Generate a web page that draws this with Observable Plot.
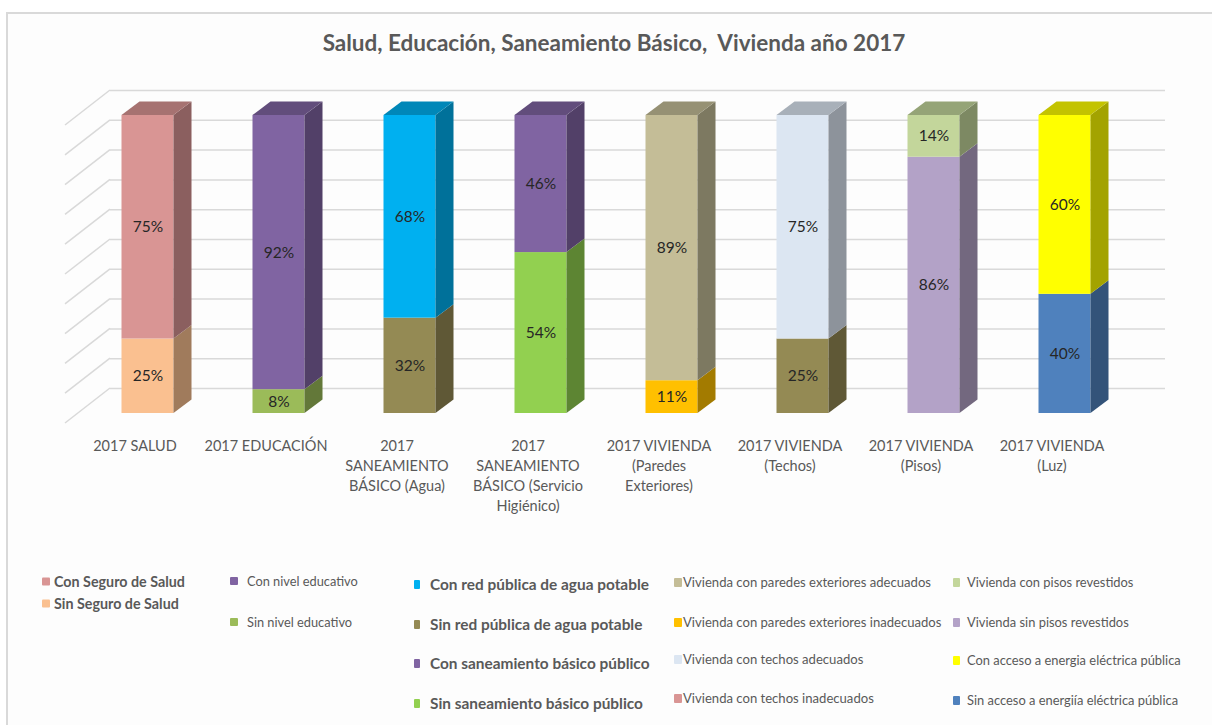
<!DOCTYPE html>
<html lang="es">
<head>
<meta charset="utf-8">
<script src="https://cdn.jsdelivr.net/npm/d3@7"></script>
<script src="https://cdn.jsdelivr.net/npm/@observablehq/plot@0.6"></script>
<style>
  html, body { margin: 0; padding: 0; background: #ffffff; }
  body { width: 1212px; height: 725px; overflow: hidden; position: relative; font-family: Lato, "Open Sans", sans-serif; }
  #frame { position: absolute; left: 6px; top: 12px; width: 1240px; height: 760px; border: 2px solid #d9d9d9; background: #fdfdfd; }
  #title { position: absolute; left: 0; top: 29px; width: 1228px; text-align: center; white-space: pre;
           font-weight: 700; font-size: 22.5px; color: #595959; }
  #chart { position: absolute; left: 0; top: 70px; }
  .item { position: absolute; display: flex; align-items: center; white-space: nowrap; color: #595959; transform: translateY(-50%); }
  .swatch { display: inline-block; flex: none; border-radius: 1px; }
</style>
</head>
<body>
<div id="frame"></div>
<div id="title">Salud, Educación, Saneamiento Básico,  Vivienda año 2017</div>
<div id="chart"></div>
<div id="legend"></div>
<script>
// Categories along the x axis and their (multi-line) tick labels
const categories = ["SALUD", "EDUCACION", "AGUA", "HIGIENICO", "PAREDES", "TECHOS", "PISOS", "LUZ"];
const tickLabels = [
  "2017 SALUD",
  "2017 EDUCACIÓN",
  "2017\nSANEAMIENTO\nBÁSICO (Agua)",
  "2017\nSANEAMIENTO\nBÁSICO (Servicio\nHigiénico)",
  "2017 VIVIENDA\n(Paredes\nExteriores)",
  "2017 VIVIENDA\n(Techos)",
  "2017 VIVIENDA\n(Pisos)",
  "2017 VIVIENDA\n(Luz)"
];

// Lower and upper stacked shares (percent) of each column
const bottomValues = [25, 8, 32, 54, 11, 25, 86, 40];
const topValues    = [75, 92, 68, 46, 89, 75, 14, 60];
const bottomColors = ["#FAC090", "#9BBB59", "#948A54", "#92D050", "#FFC000", "#948A54", "#B3A2C7", "#4F81BD"];
const topColors    = ["#D99594", "#8064A2", "#00B0F0", "#8064A2", "#C4BD97", "#DCE6F2", "#C3D69B", "#FFFF00"];

// Percentage gridlines
const gridTicks = [0, 10, 20, 30, 40, 50, 60, 70, 80, 90, 100];

// Legend entries, column by column
const legendLabels = [
  ["Con Seguro de Salud", "Sin Seguro de Salud"],
  ["Con nivel educativo", "Sin nivel educativo"],
  ["Con red pública de agua potable", "Sin red pública de agua potable", "Con saneamiento básico público", "Sin saneamiento básico público"],
  ["Vivienda con paredes exteriores adecuados", "Vivienda con paredes exteriores inadecuados", "Vivienda con techos adecuados", "Vivienda con techos inadecuados"],
  ["Vivienda con pisos revestidos", "Vivienda sin pisos revestidos", "Con acceso a energia eléctrica pública", "Sin acceso a energiía eléctrica pública"]
];
const legendColors = [
  ["#D99594", "#FAC090"],
  ["#8064A2", "#9BBB59"],
  ["#00B0F0", "#948A54", "#8064A2", "#92D050"],
  ["#C4BD97", "#FFC000", "#DCE6F2", "#D99594"],
  ["#C3D69B", "#B3A2C7", "#FFFF00", "#4F81BD"]
];

// ---- geometry of the pseudo-3D box (pixels) ----
const wall = {dx: 45, dy: -35};      // back wall offset from the floor's front edge
const front = {dx: 13, dy: -10};     // bar front face offset from the floor's front edge
const depth = {dx: 18, dy: -13.5};   // bar depth
const barInset = 39.5;               // inset of the bar inside its band

const segments = categories.flatMap((c, i) => [
  {cat: c, y1: 0, y2: bottomValues[i], value: bottomValues[i], color: bottomColors[i], top: false},
  {cat: c, y1: bottomValues[i], y2: bottomValues[i] + topValues[i], value: topValues[i], color: topColors[i], top: true}
]);

// Diagonal lines on the left side wall
function sideWall(index, {y}, values, {marginLeft}) {
  const g = d3.create("svg:g").attr("stroke", "#d9d9d9").attr("stroke-width", 1.5);
  for (const t of gridTicks) {
    g.append("line")
      .attr("x1", marginLeft).attr("y1", y(t))
      .attr("x2", marginLeft + wall.dx).attr("y2", y(t) + wall.dy);
  }
  return g.node();
}

// Right side and top faces of each stacked segment
function barFaces(index, {x, y}) {
  const g = d3.create("svg:g");
  const bw = x.bandwidth();
  for (const s of segments) {
    const xl = x(s.cat) + barInset + front.dx;
    const xr = x(s.cat) + bw - barInset + front.dx;
    const yb = y(s.y1) + front.dy;
    const yt = y(s.y2) + front.dy;
    g.append("path")
      .attr("d", `M${xr},${yb}L${xr + depth.dx},${yb + depth.dy}L${xr + depth.dx},${yt + depth.dy}L${xr},${yt}Z`)
      .attr("fill", d3.color(s.color).darker(1.25).formatHex());
    if (s.top) {
      g.append("path")
        .attr("d", `M${xl},${yt}L${xl + depth.dx},${yt + depth.dy}L${xr + depth.dx},${yt + depth.dy}L${xr},${yt}Z`)
        .attr("fill", d3.color(s.color).darker(0.75).formatHex());
    }
  }
  return g.node();
}

const chart = Plot.plot({
  width: 1212,
  height: 440,
  marginLeft: 65,
  marginRight: 92,
  marginTop: 55,
  marginBottom: 87,
  x: {type: "band", domain: categories, padding: 0, axis: null},
  y: {domain: [0, 100], axis: null},
  color: {type: "identity"},
  style: {background: "transparent", fontFamily: "Lato, 'Open Sans', sans-serif", overflow: "visible"},
  marks: [
    Plot.ruleY(gridTicks, {stroke: "#d9d9d9", strokeWidth: 1.5, dx: wall.dx, dy: wall.dy}),
    sideWall,
    Plot.barY(segments, {
      x: "cat", y1: "y1", y2: "y2", fill: "color",
      insetLeft: barInset, insetRight: barInset, dx: front.dx, dy: front.dy
    }),
    barFaces,
    Plot.text(segments, {
      x: "cat", y: d => (d.y1 + d.y2) / 2, text: d => `${d.value}%`,
      dx: front.dx, dy: front.dy, fontSize: 15.5, fill: "#262626"
    }),
    Plot.text(categories, {
      x: d => d, frameAnchor: "bottom", text: (d, i) => tickLabels[i],
      lineAnchor: "top", dy: 13, fontSize: 14.5, lineHeight: 1.38, fill: "#595959"
    })
  ]
});
document.getElementById("chart").append(chart);

// ---- legend ----
const legendColumns = [
  {x: 42, text: 54, rows: [581, 603], size: 14.3, weight: 700, sw: [8, 8]},
  {x: 230, text: 247, rows: [581, 622], size: 12.8, weight: 400, sw: [8, 8]},
  {x: 414, text: 430, rows: [584, 624, 663, 703], size: 15.4, weight: 700, sw: [6, 9]},
  {x: 674, text: 683, rows: [582, 622, 659, 698], size: 13.1, weight: 400, sw: [8, 9]},
  {x: 953, text: 967, rows: [582, 622, 660, 700], size: 12.9, weight: 400, sw: [7, 9]}
];
const legend = document.getElementById("legend");
legendColumns.forEach((col, c) => {
  legendLabels[c].forEach((label, r) => {
    const item = document.createElement("div");
    item.className = "item";
    item.style.left = col.x + "px";
    item.style.top = col.rows[r] + "px";
    item.style.fontSize = col.size + "px";
    item.style.fontWeight = col.weight;
    const sw = document.createElement("span");
    sw.className = "swatch";
    sw.style.width = col.sw[0] + "px";
    sw.style.height = col.sw[1] + "px";
    sw.style.background = legendColors[c][r];
    sw.style.marginRight = (col.text - col.x - col.sw[0]) + "px";
    const tx = document.createElement("span");
    tx.textContent = label;
    item.append(sw, tx);
    legend.append(item);
  });
});
</script>
</body>
</html>
